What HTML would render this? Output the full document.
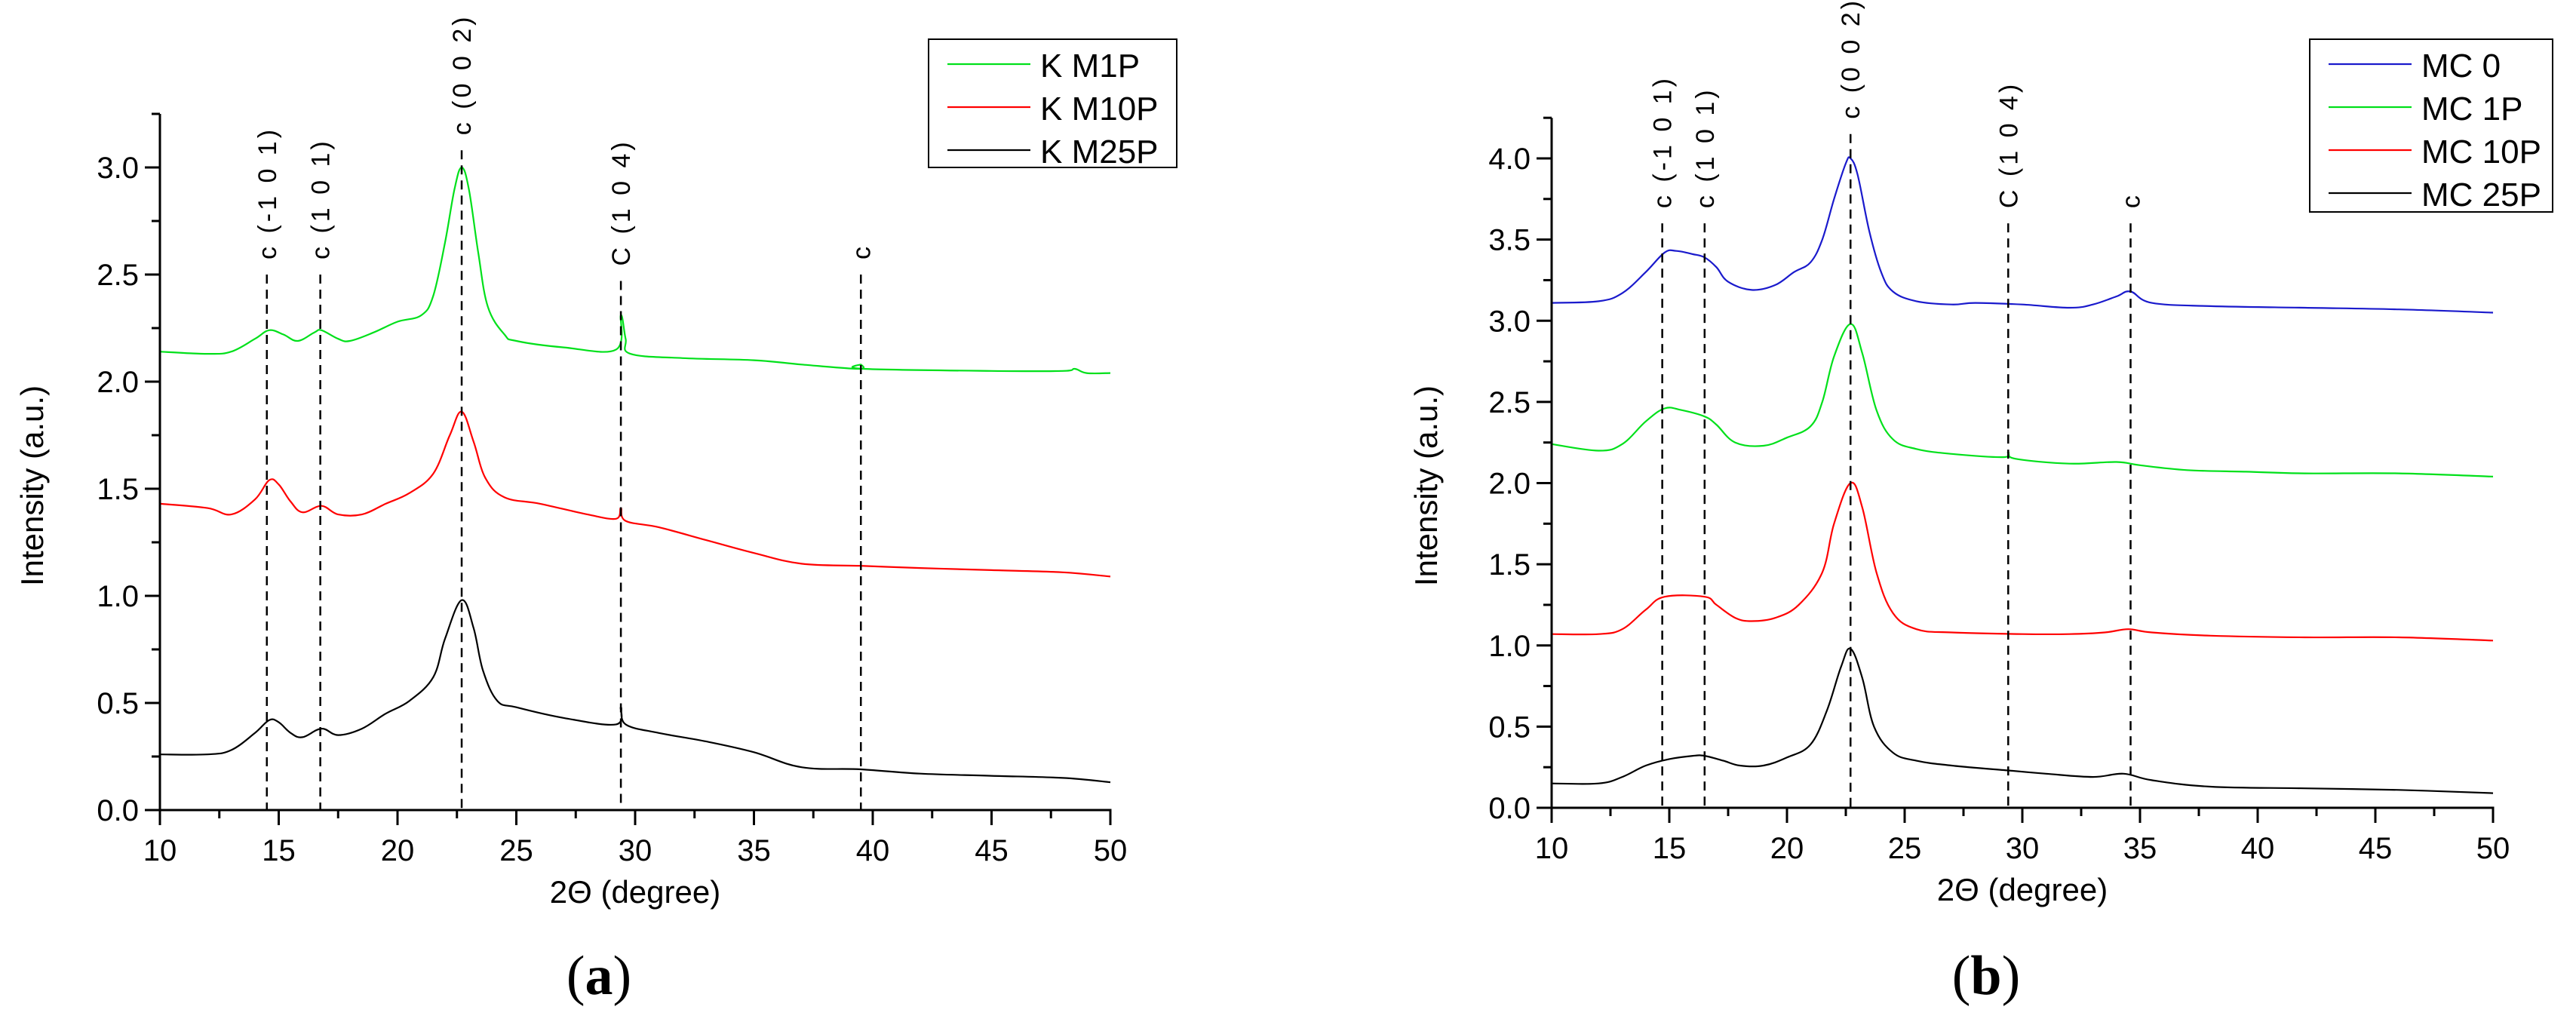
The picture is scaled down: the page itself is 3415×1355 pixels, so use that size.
<!DOCTYPE html>
<html><head><meta charset="utf-8"><style>
html,body{margin:0;padding:0;background:#fff}
svg{display:block}
text{font-family:"Liberation Sans",sans-serif;fill:#000}
</style></head><body>
<svg id="fig" width="3415" height="1355" viewBox="0 0 3415 1355" xmlns="http://www.w3.org/2000/svg">
<rect width="3415" height="1355" fill="#fff"/>
</svg>
<script>
// ---- Panel (a) data ----
const aCategories = ["K M1P","K M10P","K M25P"];
const aX1 = [10,12,13,14,14.6,15.2,15.8,16.5,16.8,17.5,18,19,20,21,21.5,22,22.4,22.7,23,23.4,23.8,24.5,25,27,29.2,29.4,29.6,29.8,32,35,37,39.4,39.5,39.6,45,48,48.5,49,50];
const aY1 = [2.14,2.13,2.14,2.2,2.24,2.22,2.19,2.23,2.24,2.2,2.19,2.23,2.28,2.31,2.4,2.65,2.9,3.0,2.9,2.6,2.35,2.22,2.19,2.16,2.15,2.31,2.2,2.13,2.11,2.1,2.08,2.06,2.08,2.06,2.05,2.05,2.06,2.04,2.04];
const aX2 = [10,12,13,14,14.6,15,15.5,16,16.8,17.5,18.5,19.5,20.5,21.5,22.2,22.7,23.2,23.7,24.5,26,28,29.2,29.4,29.6,31,33,35,37,39.5,42,45,48,50];
const aY2 = [1.43,1.41,1.38,1.45,1.54,1.52,1.44,1.39,1.42,1.38,1.38,1.43,1.48,1.57,1.75,1.86,1.72,1.55,1.46,1.43,1.38,1.36,1.41,1.35,1.32,1.26,1.2,1.15,1.14,1.13,1.12,1.11,1.09];
const aX3 = [10,12,13,14,14.6,15,15.5,16,16.8,17.5,18.5,19.5,20.5,21.5,22,22.7,23.2,23.6,24.2,25,27,29.2,29.4,29.6,31,33,35,37,39.5,42,45,48,50];
const aY3 = [0.26,0.26,0.28,0.36,0.42,0.41,0.36,0.34,0.38,0.35,0.38,0.45,0.51,0.62,0.8,0.98,0.85,0.65,0.51,0.48,0.43,0.4,0.48,0.4,0.36,0.32,0.27,0.2,0.19,0.17,0.16,0.15,0.13];
const aPeaks = [14.5,16.75,22.7,29.4,39.5];
const aPeakLabels = ["c (-1 0 1)","c (1 0 1)","c (0 0 2)","C (1 0 4)","c"];
const aPeakTops = [2.5,2.5,3.08,2.47,2.5];
const aYTicks = ["0.0","0.5","1.0","1.5","2.0","2.5","3.0"];
const xTicks = ["10","15","20","25","30","35","40","45","50"];
// ---- Panel (b) data ----
const bCategories = ["MC 0","MC 1P","MC 10P","MC 25P"];
const bX1 = [10,12,13,14,14.8,15.3,16,16.5,17,17.5,18.5,19.5,20.3,21,21.5,22,22.5,22.7,23,23.5,24,24.5,25.5,27,28,30,32,33,34,34.6,35.5,38,42,46,50];
const bY1 = [3.11,3.12,3.17,3.3,3.42,3.43,3.41,3.39,3.33,3.24,3.19,3.22,3.3,3.36,3.5,3.75,3.97,4.0,3.9,3.55,3.3,3.18,3.12,3.1,3.11,3.1,3.08,3.1,3.15,3.18,3.11,3.09,3.08,3.07,3.05];
const bX2 = [10,12,13,14,14.8,15.5,16.5,17,17.8,19,20,21,21.5,22,22.7,23.2,23.8,24.5,25.5,27,29.2,29.4,29.7,32,34,35,37,39.5,42,46,50];
const bY2 = [2.24,2.2,2.24,2.38,2.46,2.45,2.41,2.36,2.25,2.23,2.28,2.35,2.5,2.78,2.98,2.8,2.45,2.27,2.21,2.18,2.16,2.19,2.15,2.12,2.13,2.11,2.08,2.07,2.06,2.06,2.04];
const bX3 = [10,12,13,14,14.8,16.5,17,17.8,18.5,19.5,20.5,21.5,22,22.7,23.2,23.8,24.5,25.5,27,30,32,33.5,34.5,35.5,38,42,46,50];
const bY3 = [1.07,1.07,1.1,1.22,1.3,1.3,1.25,1.17,1.15,1.17,1.25,1.45,1.75,2.0,1.85,1.45,1.2,1.1,1.08,1.07,1.07,1.08,1.1,1.08,1.06,1.05,1.05,1.03];
const bX4 = [10,12,13,14,15,16,16.5,17.3,18,19,20,21,21.7,22.3,22.7,23.2,23.7,24.5,25.5,27,29.4,31,33,34.3,35.5,38,42,46,50];
const bY4 = [0.15,0.15,0.19,0.26,0.3,0.32,0.32,0.29,0.26,0.26,0.31,0.39,0.6,0.87,0.98,0.8,0.5,0.34,0.29,0.26,0.23,0.21,0.19,0.21,0.17,0.13,0.12,0.11,0.09];
const bPeaks = [14.7,16.5,22.7,29.4,34.6];
const bPeakLabels = ["c (-1 0 1)","c (1 0 1)","c (0 0 2)","C (1 0 4)","c"];
const bPeakTops = [3.6,3.6,4.15,3.6,3.6];
const bYTicks = ["0.0","0.5","1.0","1.5","2.0","2.5","3.0","3.5","4.0"];

const NS="http://www.w3.org/2000/svg";
const svg=document.getElementById('fig');
function mk(tag,attrs,parent,txt){const e=document.createElementNS(NS,tag);for(const k in attrs)e.setAttribute(k,attrs[k]);if(txt!==undefined)e.textContent=txt;(parent||svg).appendChild(e);return e;}

function smoothPath(pts){
  let d='M'+pts[0][0].toFixed(1)+','+pts[0][1].toFixed(1);
  for(let i=0;i<pts.length-1;i++){
    const p0=pts[Math.max(0,i-1)],p1=pts[i],p2=pts[i+1],p3=pts[Math.min(pts.length-1,i+2)];
    const t=0.18;
    const c1=[p1[0]+(p2[0]-p0[0])*t,p1[1]+(p2[1]-p0[1])*t];
    const c2=[p2[0]-(p3[0]-p1[0])*t,p2[1]-(p3[1]-p1[1])*t];
    d+=' C'+c1[0].toFixed(1)+','+c1[1].toFixed(1)+' '+c2[0].toFixed(1)+','+c2[1].toFixed(1)+' '+p2[0].toFixed(1)+','+p2[1].toFixed(1);
  }
  return d;
}

function panel(cfg){
  const g=mk('g',{});
  
  
  const sx=v=>cfg.x0+(v-10)/40*(cfg.x1-cfg.x0);
  const sy=v=>cfg.y0-v*cfg.ppu;
  cfg.series.forEach((s,i)=>{
    const pts=s.xs.map((x,j)=>[sx(x),sy(s.ys[j])]);
    const p=mk('path',{d:smoothPath(pts),fill:'none',stroke:s.color,'stroke-width':2.2,'stroke-linejoin':'round'},g);
    
    
  });
  cfg.peaks.forEach((px,i)=>{
    const l=mk('line',{x1:sx(px),x2:sx(px),y1:sy(cfg.tops[i]),y2:cfg.y0,stroke:'#000','stroke-width':2.5,'stroke-dasharray':'12,8'},g);
    
    
    const tx=sx(px)+12, ty=sy(cfg.tops[i])-20;
    const t=mk('text',{x:tx,y:ty,'font-size':34,'text-anchor':'start',transform:`rotate(-90 ${tx} ${ty})`,'letter-spacing':'4'},g,cfg.peakLabels[i]);
    
    
  });
  const top=sy(cfg.ymax);
  const ax=mk('path',{d:`M${cfg.x0},${top} L${cfg.x0},${cfg.y0} L${cfg.x1},${cfg.y0} L${cfg.x1},${cfg.y0+20}`,fill:'none',stroke:'#000','stroke-width':3},g);
  
  
  for(let v=10;v<=50;v+=2.5){
    const maj=(v%5===0);
    mk('line',{x1:sx(v),x2:sx(v),y1:cfg.y0,y2:cfg.y0+(maj?20:11),stroke:'#000','stroke-width':3},g);
  }
  xTicks.forEach(s=>{
    const t=mk('text',{x:sx(+s),y:cfg.y0+67,'font-size':40,'text-anchor':'middle'},g,s);
    
    
  });
  for(let v=0;v<=cfg.ymax+1e-9;v+=0.25){
    const maj=Math.abs(v*2-Math.round(v*2))<1e-6;
    mk('line',{x1:cfg.x0,x2:cfg.x0-(maj?20:11),y1:sy(v),y2:sy(v),stroke:'#000','stroke-width':3},g);
  }
  cfg.yTicks.forEach(s=>{
    const t=mk('text',{x:cfg.x0-28,y:sy(+s)+14,'font-size':40,'text-anchor':'end'},g,s);
    
    
  });
  const xt=mk('text',{x:(cfg.x0+cfg.x1)/2,y:cfg.y0+123,'font-size':42,'text-anchor':'middle'},g,'2Θ (degree)');
  
  
  const yt=mk('text',{x:cfg.ytx,y:644,'font-size':42,'text-anchor':'middle',transform:`rotate(-90 ${cfg.ytx} 644)`},g,'Intensity (a.u.)');
  
  
  const L=cfg.legend;
  const lb=mk('rect',{x:L.x,y:L.y,width:L.w,height:L.h,fill:'#fff',stroke:'#000','stroke-width':2},g);
  
  
  cfg.series.forEach((s,i)=>{
    const yy=L.y+33+i*57;
    mk('line',{x1:L.x+25,x2:L.x+135,y1:yy,y2:yy,stroke:s.color,'stroke-width':2.2},g);
    const t=mk('text',{x:L.x+148,y:yy+17,'font-size':44},g,s.label);
    
    
  });
  const pl=mk('text',{x:cfg.plx,y:1318,'font-size':74,'text-anchor':'middle'},g);
  
  
  pl.style.fontFamily='"Liberation Serif",serif';
  mk('tspan',{},pl,'(');
  mk('tspan',{'font-weight':'bold'},pl,cfg.letter);
  mk('tspan',{},pl,')');
}

panel({name:'panel-a',x0:212,x1:1472,y0:1074,ppu:284,ymax:3.25,yTicks:aYTicks,ytx:57,plx:794,letter:'a',
  peaks:aPeaks,peakLabels:aPeakLabels,tops:aPeakTops,
  legend:{x:1231,y:52,w:329,h:170},
  series:[{label:aCategories[0],xs:aX1,ys:aY1,color:'#00e01a'},{label:aCategories[1],xs:aX2,ys:aY2,color:'#ff0000'},{label:aCategories[2],xs:aX3,ys:aY3,color:'#000'}]});
panel({name:'panel-b',x0:2057,x1:3305,y0:1071,ppu:215.25,ymax:4.25,yTicks:bYTicks,ytx:1905,plx:2633,letter:'b',
  peaks:bPeaks,peakLabels:bPeakLabels,tops:bPeakTops,
  legend:{x:3062,y:52,w:322,h:229},
  series:[{label:bCategories[0],xs:bX1,ys:bY1,color:'#1a1acc'},{label:bCategories[1],xs:bX2,ys:bY2,color:'#00e01a'},{label:bCategories[2],xs:bX3,ys:bY3,color:'#ff0000'},{label:bCategories[3],xs:bX4,ys:bY4,color:'#000'}]});
</script>
</body></html>
